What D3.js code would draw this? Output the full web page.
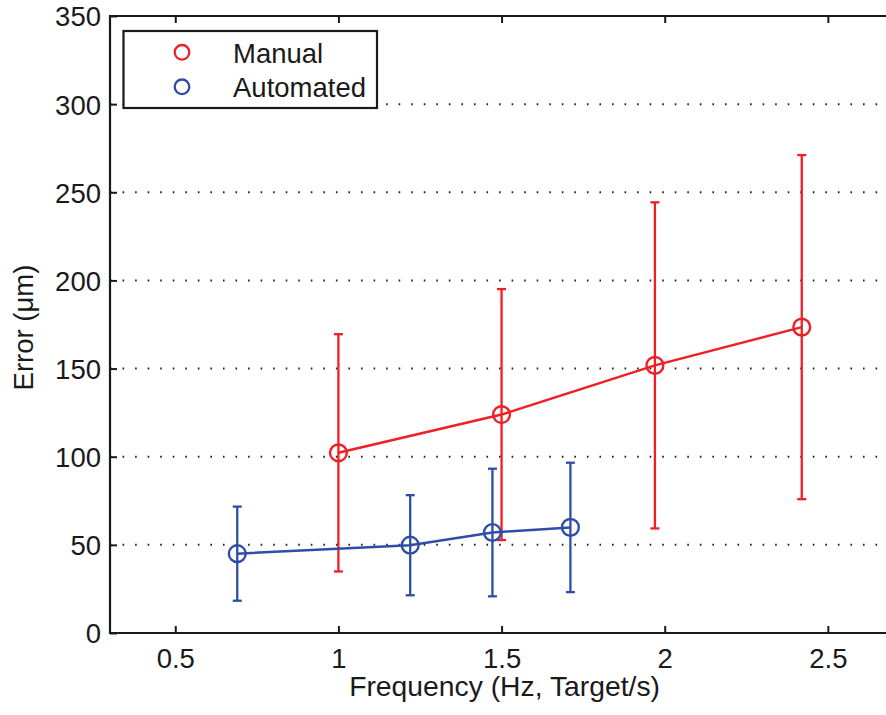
<!DOCTYPE html>
<html>
<head>
<meta charset="utf-8">
<script src="https://cdn.jsdelivr.net/npm/d3@7"></script>
<style>
  html, body { margin: 0; padding: 0; background: #fff; }
  svg { display: block; }
  text { font-family: "Liberation Sans", Arial, Helvetica, sans-serif; fill: #1a1a1a; }
</style>
</head>
<body>
<svg id="chart" width="886" height="715"></svg>
<script>
// ---- data ----
const manualX   = [1.0, 1.5, 1.97, 2.42];
const manualY   = [102.2, 123.9, 151.8, 173.5];
const manualErr = [67.3, 71.2, 92.5, 97.6];

const autoX   = [0.69, 1.22, 1.472, 1.711];
const autoY   = [45.0, 49.8, 57.0, 59.9];
const autoErr = [26.7, 28.4, 36.2, 36.7];

const xTicks = [0.5, 1, 1.5, 2, 2.5];
const yTicks = [0, 50, 100, 150, 200, 250, 300, 350];
const seriesNames = ["Manual", "Automated"];

// ---- layout ----
const svg = d3.select("#chart");
const mLeft = 110, mTop = 16, mBottom = 633;
const x = d3.scaleLinear().domain([0.3, 2.7]).range([mLeft, mLeft + 2.4 * 326.3]);
const y = d3.scaleLinear().domain([0, 350]).range([mBottom, mTop]);
const mRight = x.range()[1];
const FS = 27.5;
const red = "#ee1f25", blue = "#2f4da6", ink = "#1a1a1a";

// grid (dotted horizontal)
svg.append("g").selectAll("line")
  .data(yTicks.filter(v => v > 0 && v < 350))
  .join("line")
  .attr("x1", mLeft).attr("x2", mRight)
  .attr("y1", d => y(d)).attr("y2", d => y(d))
  .attr("stroke", "#222").attr("stroke-width", 2)
  .attr("stroke-dasharray", "1.6,10.95");

// axes
const xAxis = d3.axisBottom(x).tickValues(xTicks).tickSize(-7).tickPadding(0).tickFormat(d3.format("~g"));
const gx = svg.append("g").attr("transform", `translate(0,${mBottom})`).call(xAxis);
gx.select(".domain").remove();
gx.selectAll(".tick line").attr("stroke", ink).attr("stroke-width", 2);
gx.selectAll(".tick text").attr("font-size", FS).attr("dy", null).attr("y", 35).style("fill", ink);

const xTop = d3.axisTop(x).tickValues(xTicks).tickSize(-7).tickFormat("");
const gxt = svg.append("g").attr("transform", `translate(0,${mTop})`).call(xTop);
gxt.select(".domain").remove();
gxt.selectAll(".tick line").attr("stroke", ink).attr("stroke-width", 2);

const yAxis = d3.axisLeft(y).tickValues(yTicks).tickSize(-7).tickPadding(10);
const gy = svg.append("g").attr("transform", `translate(${mLeft},0)`).call(yAxis);
gy.select(".domain").remove();
gy.selectAll(".tick line").attr("stroke", ink).attr("stroke-width", 2);
gy.selectAll(".tick text").attr("font-size", FS).attr("x", -9).attr("dy", "0.36em").style("fill", ink);

// frame lines
svg.append("line").attr("x1", mLeft).attr("x2", mRight).attr("y1", mBottom).attr("y2", mBottom)
  .attr("stroke", ink).attr("stroke-width", 2.2);
svg.append("line").attr("x1", mLeft).attr("x2", mRight).attr("y1", mTop).attr("y2", mTop)
  .attr("stroke", ink).attr("stroke-width", 2.2);
svg.append("line").attr("x1", mLeft).attr("x2", mLeft).attr("y1", mTop - 1.1).attr("y2", mBottom + 1.1)
  .attr("stroke", ink).attr("stroke-width", 2.2);

// axis labels
svg.append("text").attr("x", (x.range()[0] + x.range()[1]) / 2 + 3).attr("y", 696)
  .attr("text-anchor", "middle").attr("font-size", 28.3).text("Frequency (Hz, Target/s)");
svg.append("text").attr("transform", `translate(33,${(mTop + mBottom) / 2 + 3}) rotate(-90)`)
  .attr("text-anchor", "middle").attr("font-size", FS).text("Error (\u03bcm)");

// series
function drawSeries(xs, ys, es, color) {
  const g = svg.append("g");
  const pts = xs.map((v, i) => ({ x: v, y: ys[i], e: es[i] }));
  const capW = 4.5;
  g.selectAll("line.bar").data(pts).join("line").attr("class", "bar")
    .attr("x1", d => x(d.x)).attr("x2", d => x(d.x))
    .attr("y1", d => y(d.y - d.e)).attr("y2", d => y(d.y + d.e))
    .attr("stroke", color).attr("stroke-width", 2.3);
  g.selectAll("line.capT").data(pts).join("line").attr("class", "capT")
    .attr("x1", d => x(d.x) - capW).attr("x2", d => x(d.x) + capW)
    .attr("y1", d => y(d.y + d.e)).attr("y2", d => y(d.y + d.e))
    .attr("stroke", color).attr("stroke-width", 2.3);
  g.selectAll("line.capB").data(pts).join("line").attr("class", "capB")
    .attr("x1", d => x(d.x) - capW).attr("x2", d => x(d.x) + capW)
    .attr("y1", d => y(d.y - d.e)).attr("y2", d => y(d.y - d.e))
    .attr("stroke", color).attr("stroke-width", 2.3);
  g.append("path").datum(pts)
    .attr("d", d3.line().x(d => x(d.x)).y(d => y(d.y)))
    .attr("fill", "none").attr("stroke", color).attr("stroke-width", 2.5);
  g.selectAll("circle").data(pts).join("circle")
    .attr("cx", d => x(d.x)).attr("cy", d => y(d.y)).attr("r", 8.4)
    .attr("fill", "none").attr("stroke", color).attr("stroke-width", 2.4);
}
drawSeries(manualX, manualY, manualErr, red);
drawSeries(autoX, autoY, autoErr, blue);

// legend
const lg = svg.append("g");
lg.append("rect").attr("x", 123.5).attr("y", 31).attr("width", 253.5).attr("height", 77)
  .attr("fill", "#fff").attr("stroke", ink).attr("stroke-width", 2.2);
const colors = [red, blue];
seriesNames.forEach((name, i) => {
  const cy = 52.3 + i * 34.5;
  lg.append("circle").attr("cx", 182).attr("cy", cy).attr("r", 7.3)
    .attr("fill", "none").attr("stroke", colors[i]).attr("stroke-width", 2.3);
  lg.append("text").attr("x", 233).attr("y", cy + 10.3).attr("font-size", FS).text(name);
});
</script>
</body>
</html>
